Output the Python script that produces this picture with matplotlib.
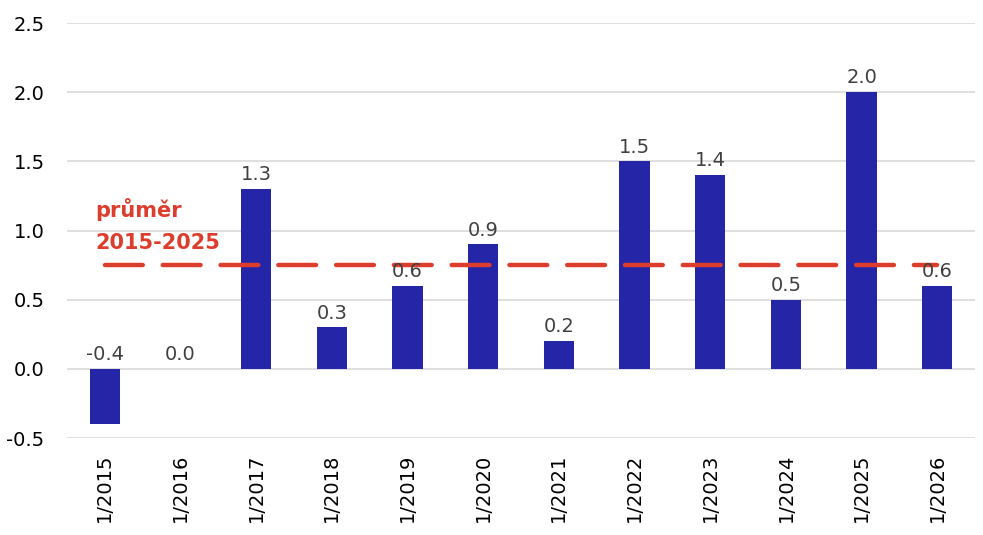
import matplotlib.pyplot as plt

# data
labels = ["1/2015", "1/2016", "1/2017", "1/2018", "1/2019", "1/2020",
          "1/2021", "1/2022", "1/2023", "1/2024", "1/2025", "1/2026"]
values = [-0.4, 0.0, 1.3, 0.3, 0.6, 0.9, 0.2, 1.5, 1.4, 0.5, 2.0, 0.6]
avg_label = "průměr\n2015-2025"
avg_values = values[:11]
avg = sum(avg_values) / len(avg_values)

bar_color = "#2525A8"
red = "#DC3D2D"
grid_color = "#D9D9D9"

fig = plt.figure(figsize=(9.83, 5.35), dpi=100)
ax = fig.add_axes([0.068, 0.181, 0.924, 0.776])

x = range(len(labels))
ax.bar(x, values, width=0.4, color=bar_color, zorder=2)

# average line over 2015-2025
ax.plot([0, 11], [avg, avg], color=red, lw=3.2, dashes=(8.5, 4.5),
        dash_capstyle="round", zorder=3)
ax.text(-0.12, 1.035, avg_label, color=red, fontsize=15, fontweight="bold",
        ha="left", va="center", linespacing=1.75, zorder=4)

for i, v in zip(x, values):
    ax.annotate(f"{v:.1f}", (i, max(v, 0)), xytext=(0, 3.5), textcoords="offset points",
                ha="center", va="bottom", fontsize=14, color="#404040", zorder=4)

ax.set_xlim(-0.5, 11.5)
ax.set_ylim(-0.5, 2.5)
ax.set_yticks([-0.5, 0.0, 0.5, 1.0, 1.5, 2.0, 2.5])
ax.set_yticklabels([f"{t:.1f}" for t in ax.get_yticks()])
ax.set_xticks(list(x))
ax.set_xticklabels(labels, rotation=90)
ax.tick_params(axis="both", length=0, labelsize=14, colors="black")
ax.tick_params(axis="y", pad=16)
ax.tick_params(axis="x", pad=11)
ax.grid(axis="y", color=grid_color, lw=1.2, zorder=0)
ax.set_axisbelow(True)
for s in ax.spines.values():
    s.set_visible(False)

fig.savefig("out.png", dpi=100)
